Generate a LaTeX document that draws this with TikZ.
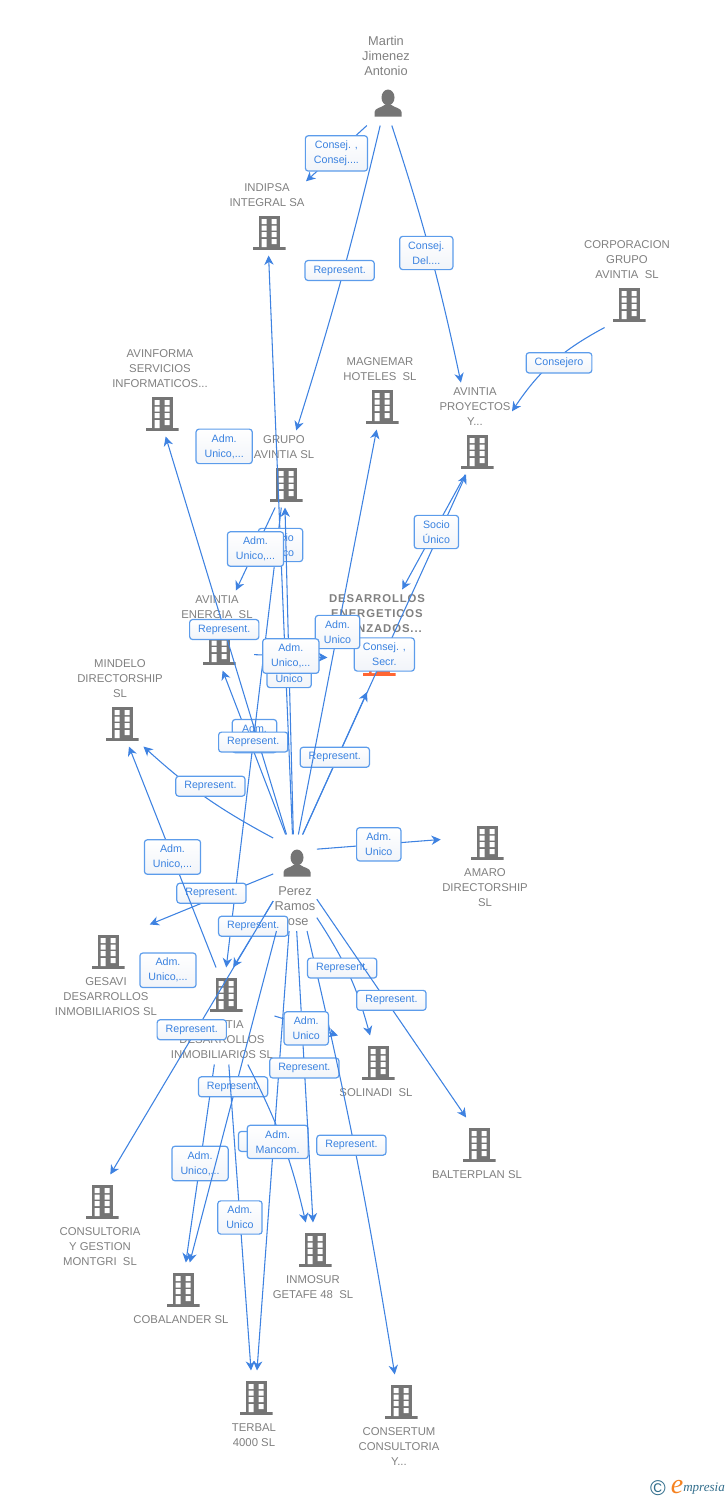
\documentclass[tikz,border=0pt]{standalone}
\usepackage{fontspec}
\setmainfont{Liberation Sans}
\newfontfamily\logofont{Liberation Serif}
\usetikzlibrary{arrows.meta,positioning,fit}
\definecolor{linkblue}{RGB}{62,130,225}
\definecolor{tagline}{RGB}{92,156,235}
\definecolor{tagtext}{RGB}{58,130,224}
\definecolor{tagfill}{RGB}{241,244,249}
\definecolor{labgray}{RGB}{128,128,128}
\definecolor{icongray}{RGB}{117,117,117}
\definecolor{iconred}{RGB}{255,102,51}
\definecolor{logoblue}{RGB}{50,110,140}
\definecolor{logoorange}{RGB}{245,130,32}

% building: icon, label, and a box round both that the links stop at
\newcommand{\company}[6][]{%
    \node[bldg,#1] (#2i) at (#3,#4) {};
    \node[lab] (#2l) at (#3-2,#5+1) {#6};
    \node[hub,fit=(#2i)(#2l)] (#2) {};
}
% person: same, the last but one argument is the height of the icon node
\newcommand{\person}[6]{%
    \node[man,minimum height=#5] (#1i) at (#2,#3) {};
    \node[lab,font=\fontsize{9.6}{11.25}\selectfont] (#1l) at (#2-2,#4) {#6};
    \node[hub,fit=(#1i)(#1l)] (#1) {};
}
\newcommand{\deslab}[1]{{\bfseries\addfontfeature{LetterSpace=8}#1}}

\begin{document}
\begin{tikzpicture}[
    x=0.75pt, y=-0.75pt,
    icon fill/.style={fill=icongray},
    bldg/.style={rectangle, inner sep=0pt, minimum width=25pt, minimum height=36.75pt, shift={(0,-2.5)},
        path picture={
            \begin{scope}[shift={(path picture bounding box.center)}]
                \fill[icon fill] (-16.5,16.5) rectangle (16.5,19.5);
                \fill[icon fill] (-10.5,-14.5) rectangle (10.5,16.5);
                \fill[white] (-7.5,-11.5) rectangle (-2.5,-6.5) (2.5,-11.5) rectangle (7.5,-6.5);
                \fill[white] (-7.5,-5) rectangle (-2.5,0) (2.5,-5) rectangle (7.5,0);
                \fill[white] (-7.5,1.5) rectangle (-2.5,6.5) (2.5,1.5) rectangle (7.5,6.5);
                \fill[white] (-7.5,8.5) rectangle (-2.5,16.5) (2.5,8.5) rectangle (7.5,13.5);
            \end{scope}
        }},
    man/.style={rectangle, inner sep=0pt, minimum width=21pt,
        path picture={
            \begin{scope}[shift={(path picture bounding box.center)}]
                \fill[icongray] (-13.5,13.5) -- (-13.5,9) .. controls (-13.5,5) and (-6,4.5) .. (-3.5,2)
                    -- (3.5,2) .. controls (6,4.5) and (13.5,5) .. (13.5,9) -- (13.5,13.5) -- cycle;
                \fill[icongray] (0,-5.5) ellipse [x radius=6.5, y radius=8];
            \end{scope}
        }},
    lab/.style={inner xsep=0pt, inner ysep=3.75pt, align=center, text=labgray, font=\fontsize{8.5}{11.25}\selectfont},
    hub/.style={rectangle, inner xsep=0.75pt, inner ysep=0pt},
    link/.style={draw=linkblue, line width=0.8pt, -{Stealth[length=7pt,width=7pt,inset=2.2pt]}},
    tag/.style={rectangle, draw=tagline, line width=0.9pt, rounded corners=2.2pt, top color=white, bottom color=tagfill,
        text=tagtext, align=center, inner xsep=6.4pt, inner ysep=3.9pt, font=\fontsize{8}{11.25}\selectfont}
]
    \useasboundingbox (0,0) rectangle (728,1500);

    \person{martin}{388}{103}{56}{33pt}{Martin\\Jimenez\\Antonio}
    \person{perez}{297}{863}{906}{42pt}{Perez\\Ramos\\Jose}
    \company{indipsa}{269}{233}{194.5}{INDIPSA\\INTEGRAL SA}
    \company{corporacion}{629}{305}{259}{CORPORACION\\GRUPO\\AVINTIA~ SL}
    \company{avinforma}{162}{414}{368}{AVINFORMA\\SERVICIOS\\INFORMATICOS...}
    \company{magnemar}{382}{407}{368.5}{MAGNEMAR\\HOTELES~ SL}
    \company{proyectos}{477}{452}{406}{AVINTIA\\PROYECTOS\\Y...}
    \company{grupo}{286}{485}{446.5}{GRUPO\\AVINTIA SL}
    \company{energia}{219}{648}{606.5}{AVINTIA\\ENERGIA~ SL}
    \company[icon fill/.style={fill=iconred}]{desarrollos}{379}{659}{613}{\deslab{DESARROLLOS}\\\deslab{ENERGETICOS}\\\deslab{AVANZADOS...}}
    \company{mindelo}{122}{724}{678}{MINDELO\\DIRECTORSHIP\\SL}
    \company{amaro}{487}{843}{887}{AMARO\\DIRECTORSHIP\\SL}
    \company{gesavi}{108}{952}{996}{GESAVI\\DESARROLLOS\\INMOBILIARIOS SL}
    \company[xshift=1.5pt]{avdes}{224}{995}{1039}{AVINTIA\\DESARROLLOS\\INMOBILIARIOS SL}
    \company{solinadi}{378}{1063}{1092}{SOLINADI~ SL}
    \company{balterplan}{479}{1145}{1174}{BALTERPLAN SL}
    \company{consultoria}{102}{1202}{1246}{CONSULTORIA\\Y GESTION\\MONTGRI~ SL}
    \company{cobalander}{183}{1290}{1319}{COBALANDER SL}
    \company{inmosur}{315}{1250}{1286.5}{INMOSUR\\GETAFE 48~ SL}
    \company{terbal}{256}{1398}{1434.5}{TERBAL\\4000 SL}
    \company{consertum}{401}{1402}{1446}{CONSERTUM\\CONSULTORIA\\Y...}

    \coordinate (desfoot) at (367,692);

    % top of the picture
    \draw[link] (martin.248) -- node[tag] {Consej. ,\\Consej....} (indipsa);
    \draw[link] (martin.263) to[bend left=2] node[tag,pos=.47,xshift=-3pt] {Represent.} (grupo);
    \draw[link] (martin.277) to[bend left=3] node[tag,xshift=-3pt] {Consej.\\Del....} (proyectos.107);
    \draw[link] (corporacion.244) to[bend right=14] node[tag,xshift=5pt] {Consejero} (proyectos.25);

    % up from Perez
    \draw[link] (perez.101) -- node[tag,pos=.6,xshift=5pt] {Adm.\\Unico} (energia.278);
    \draw[link] (perez.100) -- node[tag,pos=.515] {Represent.} (avinforma.277);
    \draw[link] (grupo.266) -- node[tag,pos=.51] {Represent.} (avdes.85);
    \draw[link] (perez.93) -- node[tag] {Socio\\Unico} (indipsa);
    \draw[link] (perez.92) -- node[tag] {Adm.\\Unico} (grupo);
    \draw[link] (perez.81) -- node[tag] {Consej. ,\\Secr.} (proyectos.259);
    \draw[link] (perez.81) -- node[tag,yshift=4.5pt] {Represent.} (desfoot);
    \draw[link] (perez.86) -- node[tag] {Adm.\\Unico} (magnemar.265);
    \draw[link] (grupo.257) -- node[tag] {Adm.\\Unico,...} (energia);
    \draw[link] (grupo.158) -- node[tag] {Adm.\\Unico,...} (avinforma.308);
    \draw[link] (proyectos.258) -- node[tag,xshift=2pt] {Socio\\Único} (desarrollos);
    \draw[link] (energia.327) -- node[tag] {Adm.\\Unico,...} (desarrollos.204);

    % sides of Perez
    \draw[link] (perez.116) to[bend left=7] node[tag,xshift=4pt,yshift=8pt] {Represent.} (mindelo.297);
    \draw[link] (perez.57) -- node[tag] {Adm.\\Unico} (amaro.151);
    \draw[link] (perez.158) -- node[tag,yshift=4.5pt] {Represent.} (gesavi.48);
    \draw[link] (avdes.97) -- node[tag] {Adm.\\Unico,...} (mindelo.281);
    \draw[link] (avdes.north west) -- node[tag,xshift=3pt,yshift=-3.5pt] {Adm.\\Unico,...} (gesavi.10);
    \draw[link] (perez.220) -- node[tag,yshift=6pt] {Represent.} (avdes.77);
    \draw[link] (perez.220) -- node[tag,yshift=6pt] {Represent.} (consultoria.78);

    % down
    \draw[link] (avdes.261) -- node[tag] {Adm.\\Unico,...} (cobalander);
    \draw[link] (perez.249) -- node[tag,pos=.47,xshift=-2pt] {Represent.} (cobalander);
    \draw[link] (avdes.278) -- node[tag] {Adm.\\Unico} (terbal);
    \draw[link] (avdes.298) to[bend left=7] node[tag,xshift=-7pt] {Represent.} (inmosur.100);
    \draw[link] (perez.263) -- node[tag,pos=.48,xshift=3pt] {Adm.\\Mancom.} (terbal);
    \draw[link] (perez.272) -- node[tag,pos=.47] {Represent.} (inmosur.north);
    \draw[link] (perez.284) to[bend left=2] node[tag,xshift=-3pt,yshift=5pt] {Represent.} (consertum.95);
    \draw[link] (perez.302) to[bend left=9] node[tag,xshift=-5pt,yshift=4.5pt] {Represent.} (solinadi.100);
    \draw[link] (perez.323) -- node[tag,yshift=6pt] {Represent.} (balterplan.108);
    \draw[link] (avdes.east) -- node[tag,yshift=-2pt] {Adm.\\Unico} (solinadi.north west);

    % logo
    \node[text=logoblue, inner sep=0pt, font=\fontsize{16}{16}\selectfont] (logoc) at (658,1488) {©};
    \node[text=logoorange, inner sep=0pt, font=\logofont\itshape\fontsize{21}{21}\selectfont] (logoe) at (677,1487) {e};
    \node[text=logoblue, inner sep=0pt, font=\logofont\itshape\fontsize{9.8}{10}\selectfont, anchor=west] (logom) at (683,1489) {mpresia};
\end{tikzpicture}
\end{document}
